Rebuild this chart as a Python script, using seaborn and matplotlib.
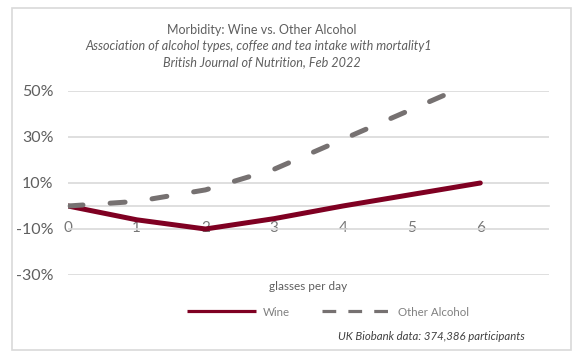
import matplotlib
matplotlib.use("Agg")
import matplotlib.pyplot as plt
from matplotlib.lines import Line2D
from matplotlib.patches import Rectangle
import pandas as pd
import seaborn as sns

# Relative change in morbidity by number of glasses per day
glasses = [0, 1, 2, 3, 4, 5, 6]
wine = [0, -6, -10, -5.5, 0, 5, 10]
other_alcohol = [0, 2, 7, 16, 29, 42, 55]
series_names = ["Wine", "Other Alcohol"]
y_ticks = [-30, -10, 10, 30, 50]

WINE_RED = "#7f0022"
ALC_GREY = "#767171"
TEXT = "#5f5f5f"
GRID = "#d9d9d9"

sns.set_theme(style="white")
plt.rcParams["font.family"] = ["Lato", "DejaVu Sans"]
plt.rcParams["font.weight"] = "normal"

df = pd.concat([
    pd.DataFrame({"glasses": glasses, "change": wine, "series": series_names[0]}),
    pd.DataFrame({"glasses": glasses, "change": other_alcohol, "series": series_names[1]}),
])

W, H = 574, 353
fig = plt.figure(figsize=(W / 100, H / 100), dpi=100)
fig.patch.set_facecolor("white")

left, right, top, bottom = 68, 549, 91, 275
ax = fig.add_axes([left / W, 1 - bottom / H, (right - left) / W, (bottom - top) / H])

sns.lineplot(
    data=df, x="glasses", y="change", hue="series", style="series",
    palette={series_names[0]: WINE_RED, series_names[1]: ALC_GREY},
    dashes={series_names[0]: "", series_names[1]: (3.0, 5.44)},
    linewidth=3.6, legend=False, ax=ax, zorder=3,
)
for ln in ax.lines:
    ln.set_solid_capstyle("round")
    ln.set_dash_capstyle("round")

ax.set_xlim(0, 7)
ax.set_ylim(-30, 50)
ax.set_yticks(y_ticks)
ax.set_yticklabels([f"{v}%" for v in y_ticks])
ax.set_xticks(glasses)
ax.set_xticklabels([str(g) for g in glasses])
ax.set_xlabel("")
ax.set_ylabel("")

ax.yaxis.grid(True, color=GRID, linewidth=1.2)
ax.xaxis.grid(False)
ax.set_axisbelow(True)
for side in ["left", "right", "top"]:
    ax.spines[side].set_visible(False)
ax.spines["bottom"].set_position(("data", 0))
ax.spines["bottom"].set_color(GRID)
ax.spines["bottom"].set_linewidth(1.2)
ax.spines["bottom"].set_zorder(1)

ax.tick_params(axis="y", length=0, pad=10.5, labelsize=11.5, labelcolor=TEXT)
ax.tick_params(axis="x", length=0, pad=10.5, labelsize=11, labelcolor="#777777")

# Titles
fig.text(262 / W, 1 - 30 / H, "Morbidity: Wine vs. Other Alcohol",
         ha="center", va="center", fontsize=9, color=TEXT)
fig.text(259 / W, 1 - 46 / H,
         "Association of alcohol types, coffee and tea intake with mortality1",
         ha="center", va="center", fontsize=9.1, color=TEXT, style="italic")
fig.text(262 / W, 1 - 62 / H, "British Journal of Nutrition, Feb 2022",
         ha="center", va="center", fontsize=9.1, color=TEXT, style="italic")

fig.text((left + right) / 2 / W, 1 - 287 / H, "glasses per day",
         ha="center", va="center", fontsize=8.5, color=TEXT)

handles = [
    Line2D([], [], color=WINE_RED, linewidth=2.3, solid_capstyle="butt"),
    Line2D([], [], color=ALC_GREY, linewidth=2.3, dashes=(4.3, 3.8), dash_capstyle="butt"),
]
fig.legend(handles, series_names, loc="center", bbox_to_anchor=(328 / W, 1 - 312 / H),
           ncol=2, frameon=False, fontsize=8.3, labelcolor="#808080",
           handlelength=6.0, handletextpad=0.6, columnspacing=2.8)

fig.text(525 / W, 1 - 336 / H, "UK Biobank data: 374,386 participants",
         ha="right", va="center", fontsize=8.2, color="#404040", style="italic")

fig.add_artist(Rectangle((12 / W, 1 - 350 / H), (571 - 12) / W, (350 - 8) / H,
                         transform=fig.transFigure, fill=False,
                         edgecolor=GRID, linewidth=1.2))

fig.savefig("out.png", dpi=100, facecolor="white")
